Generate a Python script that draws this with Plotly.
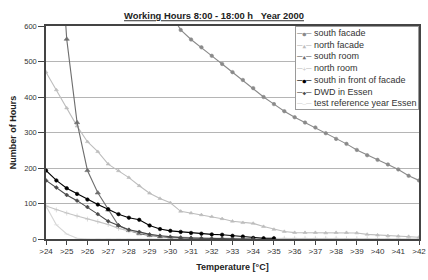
import plotly.graph_objects as go

temps = [24, 24.5, 25, 25.5, 26, 26.5, 27, 27.5, 28, 28.5, 29, 29.5, 30, 30.5,
         31, 31.5, 32, 32.5, 33, 33.5, 34, 34.5, 35, 35.5, 36, 36.5, 37, 37.5,
         38, 38.5, 39, 39.5, 40, 40.5, 41, 41.5, 42]
tick_vals = [24, 25, 26, 27, 28, 29, 30, 31, 32, 33, 34, 35, 36, 37, 38, 39, 40, 41, 42]
tick_text = [">24", ">25", ">26", ">27", ">28", ">29", ">30", ">31", ">32", ">33",
             ">34", ">35", ">36", ">37", ">38", ">39", ">40", ">41", ">42"]

south_facade = [None, None, None, None, None, None, None, None, None, None, None, None,
                637, 589, 562, 540, 516, 493, 470, 448, 425, 400, 380, 360, 343, 328,
                314, 298, 282, 268, 251, 236, 223, 210, 196, 178, 165]
north_facade = [470, 420, 369, 318, 274, 246, 211, 192, 173, 150, 129, 114, 102, 78,
                73, 68, 63, 57, 50, 46, 44, 35, 27, 21, 18, 18, 18, 17,
                18, 18, 17, 13, 11, 9, 8, 7, 5]
south_room = [None, 1000, 563, 328, 193, 130, 82, 38, 24, 15, 10, 6, 4, 3,
              2, 1, 1, 0, 0, 0, 0, 0, 0, None, None, None, None, None,
              None, None, None, None, None, None, None, None, None]
north_room = [93, 82, 73, 65, 56, 49, 41, 30, 23, 18, 11, 8, 7, 5,
              4, 3, 3, 2, 2, 2, 2, 2, 2, 2, 2, 2, 2, 2,
              2, 1, 1, 1, 1, 1, 1, 1, 0]
south_front = [193, 165, 143, 127, 111, 97, 84, 70, 60, 54, 38, 28, 23, 20,
               17, 15, 13, 12, 9, 7, 3, 2, 2, None, None, None, None, None,
               None, None, None, None, None, None, None, None, None]
dwd_essen = [165, 145, 124, 108, 90, 70, 50, 38, 26, 20, 13, 9, 6, 4,
             3, 2, 1, 1, 0, 0, 0, None, None, None, None, None, None, None,
             None, None, None, None, None, None, None, None, None]
test_ref = [93, 40, 14, 2, 0, 0, 0, 0, 0, 0, 0, 0, 0, None,
            None, None, None, None, None, None, None, None, None, None, None, None, None, None,
            None, None, None, None, None, None, None, None, None]

names = ["south facade", "north facade", "south room", "north room",
         "south in front of facade", "DWD in Essen", "test reference year Essen"]
series = [south_facade, north_facade, south_room, north_room, south_front, dwd_essen, test_ref]
colors = ["#8a8a8a", "#bdbdbd", "#6e6e6e", "#c4c4c4", "#000000", "#4a4a4a", "#d6d6d6"]
symbols = ["circle", "triangle-up", "triangle-up", "cross-thin-open", "circle", "diamond", "line-ew-open"]
sizes = [3.5, 3.5, 4.5, 3.5, 3.5, 3, 3.5]
legend_glyphs = ["●", "▲", "▲", "+", "●", "◆", "–"]

FONT = "Liberation Sans, Arial, sans-serif"

fig = go.Figure()
for name, ys, c, s, sz in zip(names, series, colors, symbols, sizes):
    fig.add_trace(go.Scatter(
        x=temps, y=ys, name=name, mode="lines+markers",
        line=dict(color=c, width=1.1),
        marker=dict(symbol=s, size=sz, color=c, line=dict(color=c, width=0.6)),
        showlegend=False, connectgaps=False,
    ))

legend_lines = []
for name, c, g in zip(names, colors, legend_glyphs):
    legend_lines.append(
        f"<span style='color:{c};font-family:DejaVu Sans Mono'>"
        f"–<span style='font-size:6px'>{g}</span>–</span> {name}")
legend_text = "<br>".join(legend_lines)

fig.add_annotation(
    text=legend_text, xref="paper", yref="paper", x=1, y=1,
    xanchor="right", yanchor="top", align="left", showarrow=False,
    bgcolor="white", bordercolor="#9a9a9a", borderwidth=1, borderpad=1,
    font=dict(family=FONT, size=9, color="#333333"),
)

fig.update_layout(
    width=428, height=280,
    margin=dict(l=46, r=9, t=26, b=41, autoexpand=False),
    paper_bgcolor="white", plot_bgcolor="white",
    font=dict(family=FONT, size=8, color="#333333"),
    title=dict(text="<b><u>Working Hours 8:00 - 18:00 h   Year 2000</u></b>",
               x=0.5, xref="container", xanchor="center",
               y=1 - 16 / 280, yref="container", yanchor="middle",
               font=dict(family=FONT, size=9.4, color="#222222")),
)
fig.update_xaxes(
    range=[24, 42], tickmode="array", tickvals=tick_vals, ticktext=tick_text,
    showgrid=False, zeroline=False, showline=True, linecolor="#444444", linewidth=1.5,
    mirror=True, ticks="outside", ticklen=4, tickcolor="#444444",
    ticklabeloverflow="allow", automargin=False,
    tickfont=dict(family=FONT, size=8, color="#333333"),
    title=dict(text="<b>Temperature [°C]</b>", standoff=8,
               font=dict(family=FONT, size=9, color="#222222")),
)
fig.update_yaxes(
    range=[0, 600], tickmode="array", tickvals=[0, 100, 200, 300, 400, 500, 600],
    showgrid=True, gridcolor="#b5b5b5", gridwidth=1, zeroline=False,
    showline=True, linecolor="#444444", linewidth=1.5, mirror=True,
    ticks="outside", ticklen=6, tickcolor="#444444", automargin=False,
    tickfont=dict(family=FONT, size=7.5, color="#333333"),
    title=dict(text="<b>Number of Hours</b>", standoff=6,
               font=dict(family=FONT, size=9, color="#222222")),
)

fig.write_html("out.html", config={"displayModeBar": False},
               post_script="document.body.style.margin='0px';")
